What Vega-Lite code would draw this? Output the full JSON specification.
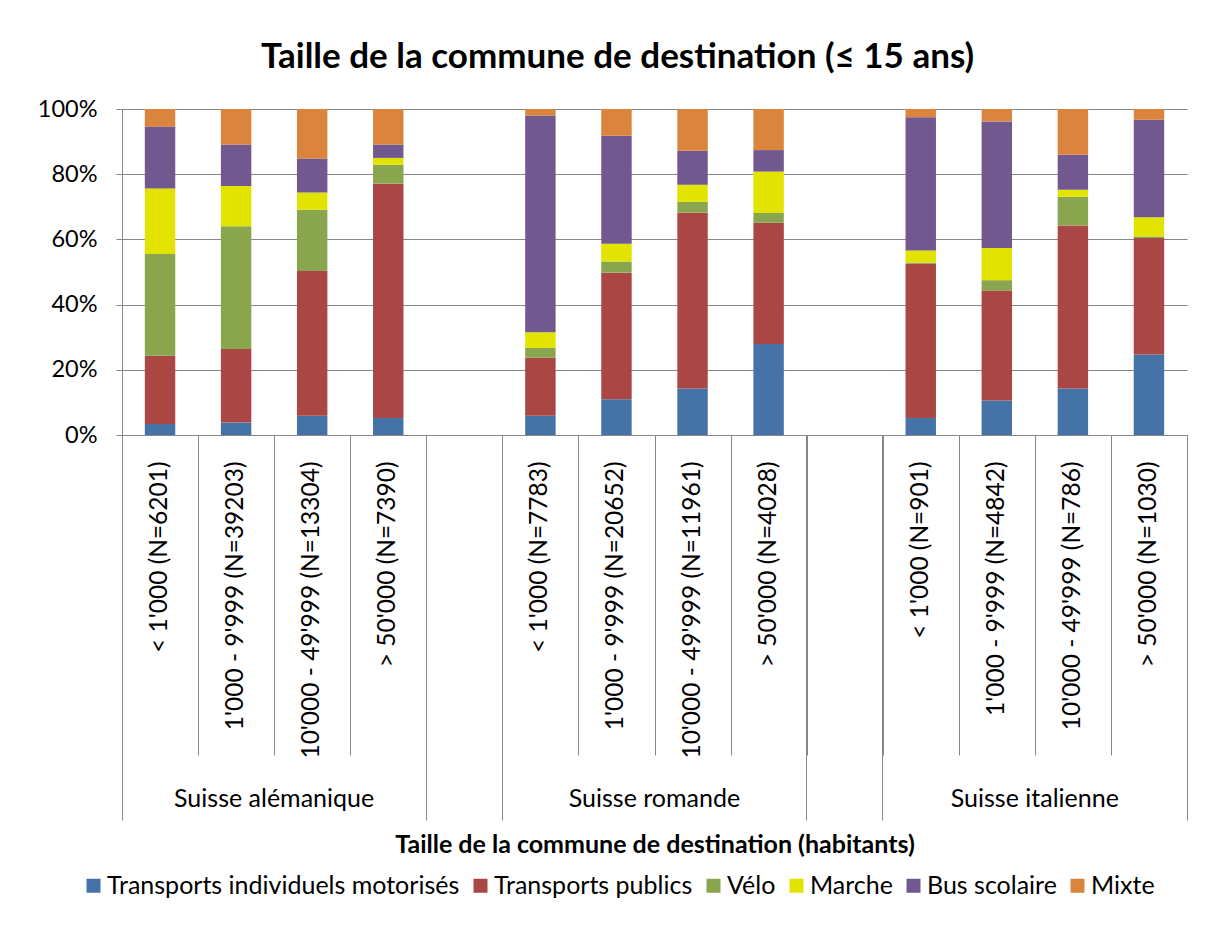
{
  "$schema": "https://vega.github.io/schema/vega-lite/v6.json",
  "autosize": "none",
  "width": 1065,
  "height": 326,
  "padding": {"left": 122, "top": 109, "right": 20, "bottom": 514},
  "title": {
    "text": "Taille de la commune de destination (≤ 15 ans)",
    "font": "Lato",
    "fontSize": 35,
    "fontWeight": "bold",
    "color": "#000000",
    "anchor": "middle",
    "frame": "group",
    "dx": -37,
    "offset": 22
  },
  "data": {
    "values": [
      {"region": "Suisse alémanique", "cat": "< 1'000 (N=6201)", "mode": "Transports individuels motorisés", "k": 1, "pct": 3.4},
      {"region": "Suisse alémanique", "cat": "< 1'000 (N=6201)", "mode": "Transports publics", "k": 2, "pct": 20.9},
      {"region": "Suisse alémanique", "cat": "< 1'000 (N=6201)", "mode": "Vélo", "k": 3, "pct": 31.2},
      {"region": "Suisse alémanique", "cat": "< 1'000 (N=6201)", "mode": "Marche", "k": 4, "pct": 20.1},
      {"region": "Suisse alémanique", "cat": "< 1'000 (N=6201)", "mode": "Bus scolaire", "k": 5, "pct": 19.0},
      {"region": "Suisse alémanique", "cat": "< 1'000 (N=6201)", "mode": "Mixte", "k": 6, "pct": 5.4},
      {"region": "Suisse alémanique", "cat": "1'000 - 9'999 (N=39203)", "mode": "Transports individuels motorisés", "k": 1, "pct": 3.8},
      {"region": "Suisse alémanique", "cat": "1'000 - 9'999 (N=39203)", "mode": "Transports publics", "k": 2, "pct": 22.6},
      {"region": "Suisse alémanique", "cat": "1'000 - 9'999 (N=39203)", "mode": "Vélo", "k": 3, "pct": 37.6},
      {"region": "Suisse alémanique", "cat": "1'000 - 9'999 (N=39203)", "mode": "Marche", "k": 4, "pct": 12.4},
      {"region": "Suisse alémanique", "cat": "1'000 - 9'999 (N=39203)", "mode": "Bus scolaire", "k": 5, "pct": 12.7},
      {"region": "Suisse alémanique", "cat": "1'000 - 9'999 (N=39203)", "mode": "Mixte", "k": 6, "pct": 10.9},
      {"region": "Suisse alémanique", "cat": "10'000 - 49'999 (N=13304)", "mode": "Transports individuels motorisés", "k": 1, "pct": 5.9},
      {"region": "Suisse alémanique", "cat": "10'000 - 49'999 (N=13304)", "mode": "Transports publics", "k": 2, "pct": 44.4},
      {"region": "Suisse alémanique", "cat": "10'000 - 49'999 (N=13304)", "mode": "Vélo", "k": 3, "pct": 18.8},
      {"region": "Suisse alémanique", "cat": "10'000 - 49'999 (N=13304)", "mode": "Marche", "k": 4, "pct": 5.3},
      {"region": "Suisse alémanique", "cat": "10'000 - 49'999 (N=13304)", "mode": "Bus scolaire", "k": 5, "pct": 10.4},
      {"region": "Suisse alémanique", "cat": "10'000 - 49'999 (N=13304)", "mode": "Mixte", "k": 6, "pct": 15.2},
      {"region": "Suisse alémanique", "cat": "> 50'000 (N=7390)", "mode": "Transports individuels motorisés", "k": 1, "pct": 5.2},
      {"region": "Suisse alémanique", "cat": "> 50'000 (N=7390)", "mode": "Transports publics", "k": 2, "pct": 71.9},
      {"region": "Suisse alémanique", "cat": "> 50'000 (N=7390)", "mode": "Vélo", "k": 3, "pct": 5.8},
      {"region": "Suisse alémanique", "cat": "> 50'000 (N=7390)", "mode": "Marche", "k": 4, "pct": 2.1},
      {"region": "Suisse alémanique", "cat": "> 50'000 (N=7390)", "mode": "Bus scolaire", "k": 5, "pct": 4.1},
      {"region": "Suisse alémanique", "cat": "> 50'000 (N=7390)", "mode": "Mixte", "k": 6, "pct": 10.9},
      {"region": "Suisse romande", "cat": "< 1'000 (N=7783)", "mode": "Transports individuels motorisés", "k": 1, "pct": 5.9},
      {"region": "Suisse romande", "cat": "< 1'000 (N=7783)", "mode": "Transports publics", "k": 2, "pct": 17.8},
      {"region": "Suisse romande", "cat": "< 1'000 (N=7783)", "mode": "Vélo", "k": 3, "pct": 3.0},
      {"region": "Suisse romande", "cat": "< 1'000 (N=7783)", "mode": "Marche", "k": 4, "pct": 4.8},
      {"region": "Suisse romande", "cat": "< 1'000 (N=7783)", "mode": "Bus scolaire", "k": 5, "pct": 66.5},
      {"region": "Suisse romande", "cat": "< 1'000 (N=7783)", "mode": "Mixte", "k": 6, "pct": 2.0},
      {"region": "Suisse romande", "cat": "1'000 - 9'999 (N=20652)", "mode": "Transports individuels motorisés", "k": 1, "pct": 11.0},
      {"region": "Suisse romande", "cat": "1'000 - 9'999 (N=20652)", "mode": "Transports publics", "k": 2, "pct": 38.8},
      {"region": "Suisse romande", "cat": "1'000 - 9'999 (N=20652)", "mode": "Vélo", "k": 3, "pct": 3.4},
      {"region": "Suisse romande", "cat": "1'000 - 9'999 (N=20652)", "mode": "Marche", "k": 4, "pct": 5.5},
      {"region": "Suisse romande", "cat": "1'000 - 9'999 (N=20652)", "mode": "Bus scolaire", "k": 5, "pct": 33.1},
      {"region": "Suisse romande", "cat": "1'000 - 9'999 (N=20652)", "mode": "Mixte", "k": 6, "pct": 8.2},
      {"region": "Suisse romande", "cat": "10'000 - 49'999 (N=11961)", "mode": "Transports individuels motorisés", "k": 1, "pct": 14.3},
      {"region": "Suisse romande", "cat": "10'000 - 49'999 (N=11961)", "mode": "Transports publics", "k": 2, "pct": 53.9},
      {"region": "Suisse romande", "cat": "10'000 - 49'999 (N=11961)", "mode": "Vélo", "k": 3, "pct": 3.3},
      {"region": "Suisse romande", "cat": "10'000 - 49'999 (N=11961)", "mode": "Marche", "k": 4, "pct": 5.3},
      {"region": "Suisse romande", "cat": "10'000 - 49'999 (N=11961)", "mode": "Bus scolaire", "k": 5, "pct": 10.4},
      {"region": "Suisse romande", "cat": "10'000 - 49'999 (N=11961)", "mode": "Mixte", "k": 6, "pct": 12.8},
      {"region": "Suisse romande", "cat": "> 50'000 (N=4028)", "mode": "Transports individuels motorisés", "k": 1, "pct": 27.9},
      {"region": "Suisse romande", "cat": "> 50'000 (N=4028)", "mode": "Transports publics", "k": 2, "pct": 37.2},
      {"region": "Suisse romande", "cat": "> 50'000 (N=4028)", "mode": "Vélo", "k": 3, "pct": 3.0},
      {"region": "Suisse romande", "cat": "> 50'000 (N=4028)", "mode": "Marche", "k": 4, "pct": 12.7},
      {"region": "Suisse romande", "cat": "> 50'000 (N=4028)", "mode": "Bus scolaire", "k": 5, "pct": 6.6},
      {"region": "Suisse romande", "cat": "> 50'000 (N=4028)", "mode": "Mixte", "k": 6, "pct": 12.6},
      {"region": "Suisse italienne", "cat": "< 1'000 (N=901)", "mode": "Transports individuels motorisés", "k": 1, "pct": 5.2},
      {"region": "Suisse italienne", "cat": "< 1'000 (N=901)", "mode": "Transports publics", "k": 2, "pct": 47.4},
      {"region": "Suisse italienne", "cat": "< 1'000 (N=901)", "mode": "Vélo", "k": 3, "pct": 0.3},
      {"region": "Suisse italienne", "cat": "< 1'000 (N=901)", "mode": "Marche", "k": 4, "pct": 3.7},
      {"region": "Suisse italienne", "cat": "< 1'000 (N=901)", "mode": "Bus scolaire", "k": 5, "pct": 40.9},
      {"region": "Suisse italienne", "cat": "< 1'000 (N=901)", "mode": "Mixte", "k": 6, "pct": 2.5},
      {"region": "Suisse italienne", "cat": "1'000 - 9'999 (N=4842)", "mode": "Transports individuels motorisés", "k": 1, "pct": 10.6},
      {"region": "Suisse italienne", "cat": "1'000 - 9'999 (N=4842)", "mode": "Transports publics", "k": 2, "pct": 33.7},
      {"region": "Suisse italienne", "cat": "1'000 - 9'999 (N=4842)", "mode": "Vélo", "k": 3, "pct": 3.2},
      {"region": "Suisse italienne", "cat": "1'000 - 9'999 (N=4842)", "mode": "Marche", "k": 4, "pct": 9.9},
      {"region": "Suisse italienne", "cat": "1'000 - 9'999 (N=4842)", "mode": "Bus scolaire", "k": 5, "pct": 38.8},
      {"region": "Suisse italienne", "cat": "1'000 - 9'999 (N=4842)", "mode": "Mixte", "k": 6, "pct": 3.8},
      {"region": "Suisse italienne", "cat": "10'000 - 49'999 (N=786)", "mode": "Transports individuels motorisés", "k": 1, "pct": 14.3},
      {"region": "Suisse italienne", "cat": "10'000 - 49'999 (N=786)", "mode": "Transports publics", "k": 2, "pct": 50.0},
      {"region": "Suisse italienne", "cat": "10'000 - 49'999 (N=786)", "mode": "Vélo", "k": 3, "pct": 8.8},
      {"region": "Suisse italienne", "cat": "10'000 - 49'999 (N=786)", "mode": "Marche", "k": 4, "pct": 2.1},
      {"region": "Suisse italienne", "cat": "10'000 - 49'999 (N=786)", "mode": "Bus scolaire", "k": 5, "pct": 10.8},
      {"region": "Suisse italienne", "cat": "10'000 - 49'999 (N=786)", "mode": "Mixte", "k": 6, "pct": 14.0},
      {"region": "Suisse italienne", "cat": "> 50'000 (N=1030)", "mode": "Transports individuels motorisés", "k": 1, "pct": 24.7},
      {"region": "Suisse italienne", "cat": "> 50'000 (N=1030)", "mode": "Transports publics", "k": 2, "pct": 35.7},
      {"region": "Suisse italienne", "cat": "> 50'000 (N=1030)", "mode": "Vélo", "k": 3, "pct": 0.5},
      {"region": "Suisse italienne", "cat": "> 50'000 (N=1030)", "mode": "Marche", "k": 4, "pct": 5.9},
      {"region": "Suisse italienne", "cat": "> 50'000 (N=1030)", "mode": "Bus scolaire", "k": 5, "pct": 29.9},
      {"region": "Suisse italienne", "cat": "> 50'000 (N=1030)", "mode": "Mixte", "k": 6, "pct": 3.3}
    ]
  },
  "resolve": {"axis": {"x": "independent"}},
  "layer": [
    {
      "mark": {"type": "bar", "width": {"band": 0.4}},
      "encoding": {
        "x": {
          "field": "cat", "type": "nominal",
          "scale": {"type": "band", "paddingInner": 0, "paddingOuter": 0,
            "domain": ["< 1'000 (N=6201)", "1'000 - 9'999 (N=39203)", "10'000 - 49'999 (N=13304)", "> 50'000 (N=7390)", " ", "< 1'000 (N=7783)", "1'000 - 9'999 (N=20652)", "10'000 - 49'999 (N=11961)", "> 50'000 (N=4028)", "  ", "< 1'000 (N=901)", "1'000 - 9'999 (N=4842)", "10'000 - 49'999 (N=786)", "> 50'000 (N=1030)"]},
          "axis": {"orient": "bottom", "title": null, "ticks": false, "domain": false, "labelAngle": -90, "labelPadding": 26, "labelFontSize": 24.5, "labelLimit": 0}
        },
        "y": {
          "field": "pct", "type": "quantitative", "stack": "normalize",
          "scale": {"domain": [0, 1]},
          "axis": {"title": null, "format": ".0%", "values": [0, 0.2, 0.4, 0.6, 0.8, 1], "grid": true, "tickSize": 6, "labelPadding": 19, "labelFontSize": 23.5}
        },
        "color": {
          "field": "mode", "type": "nominal",
          "scale": {
            "domain": ["Transports individuels motorisés", "Transports publics", "Vélo", "Marche", "Bus scolaire", "Mixte"],
            "range": ["#4572A7", "#AA4643", "#89A54E", "#E3E300", "#71588F", "#DB843D"]
          },
          "legend": {"title": null, "orient": "none", "legendX": -41, "legendY": 764, "direction": "horizontal", "symbolType": "square", "symbolSize": 196, "symbolStrokeWidth": 0, "symbolOpacity": 1, "labelFontSize": 25, "labelOffset": 1, "columnPadding": 8, "labelLimit": 0}
        },
        "order": {"field": "k", "type": "quantitative"}
      }
    },
    {
      "mark": {"type": "rule", "opacity": 0},
      "encoding": {
        "x": {
          "field": "cat", "type": "nominal", "scale": {"type": "band"},
          "axis": {"orient": "bottom", "title": null, "labels": false, "tickBand": "extent", "tickSize": 320, "domain": true}
        }
      }
    },
    {
      "mark": {"type": "rule", "opacity": 0},
      "encoding": {
        "x": {
          "field": "cat", "type": "nominal", "scale": {"type": "band"},
          "axis": {"orient": "bottom", "title": null, "labels": false, "domain": false, "bandPosition": 1, "tickExtra": false, "tickSize": 385,
            "values": ["> 50'000 (N=7390)", " ", "> 50'000 (N=4028)", "  ", "> 50'000 (N=1030)"]}
        }
      }
    },
    {
      "mark": {"type": "rule", "opacity": 0},
      "encoding": {
        "x": {
          "field": "cat", "type": "nominal", "scale": {"type": "band"},
          "axis": {"orient": "bottom", "title": null, "labels": false, "domain": false, "bandPosition": 0, "tickExtra": false, "tickSize": 385,
            "values": ["< 1'000 (N=6201)"]}
        }
      }
    },
    {
      "mark": {"type": "rule", "opacity": 0},
      "encoding": {
        "x": {
          "field": "cat", "type": "nominal", "scale": {"type": "band"},
          "axis": {"orient": "bottom", "ticks": false, "domain": false,
            "values": ["1'000 - 9'999 (N=39203)", "1'000 - 9'999 (N=20652)", "1'000 - 9'999 (N=4842)"],
            "labelExpr": "datum.value == \"1'000 - 9'999 (N=39203)\" ? 'Suisse alémanique' : datum.value == \"1'000 - 9'999 (N=20652)\" ? 'Suisse romande' : 'Suisse italienne'",
            "labelAngle": 0, "labelAlign": "center", "labelBaseline": "top", "labelOffset": 38, "labelPadding": 351, "labelFontSize": 25, "labelLimit": 0,
            "title": "Taille de la commune de destination (habitants)", "titleFontSize": 25, "titleFontWeight": "bold", "titleBaseline": "alphabetic", "titleY": 417}
        }
      }
    }
  ],
  "config": {
    "font": "Lato",
    "view": {"stroke": null},
    "axis": {
      "labelFont": "Lato", "titleFont": "Lato", "labelColor": "#000000", "titleColor": "#000000",
      "domainColor": "#868686", "tickColor": "#868686", "gridColor": "#868686", "gridOpacity": 1, "domainWidth": 1, "tickWidth": 1
    },
    "legend": {"labelFont": "Lato", "labelColor": "#000000"}
  }
}
